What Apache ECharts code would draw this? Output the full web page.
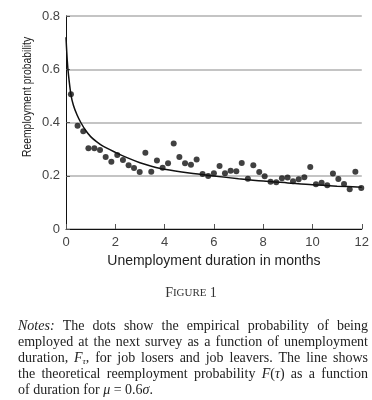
<!DOCTYPE html>
<html>
<head>
<meta charset="utf-8">
<script src="https://cdn.jsdelivr.net/npm/echarts@6/dist/echarts.min.js"></script>
<style>
html,body{margin:0;padding:0;background:#fff;}
#chart{width:372px;height:400px;}
</style>
</head>
<body>
<div id="chart"></div>
<script>
// Empirical dots
const dotX = [0.20,0.47,0.70,0.91,1.15,1.38,1.61,1.84,2.08,2.31,2.54,2.76,2.99,3.22,3.46,3.69,3.92,4.14,4.37,4.60,4.83,5.07,5.30,5.54,5.77,6.00,6.23,6.45,6.68,6.91,7.13,7.38,7.60,7.84,8.06,8.30,8.53,8.76,8.99,9.21,9.44,9.67,9.91,10.14,10.37,10.60,10.83,11.05,11.28,11.51,11.74,11.98];
const dotY = [0.506,0.388,0.367,0.303,0.303,0.297,0.270,0.253,0.278,0.259,0.239,0.229,0.214,0.286,0.215,0.257,0.230,0.247,0.321,0.270,0.247,0.241,0.261,0.207,0.199,0.209,0.237,0.209,0.219,0.217,0.248,0.189,0.239,0.214,0.198,0.177,0.176,0.191,0.193,0.179,0.187,0.194,0.233,0.168,0.174,0.164,0.208,0.188,0.169,0.149,0.215,0.154];
// Theoretical curve F(tau)
const curveX = [0.0,0.05,0.1,0.2,0.3,0.45,0.6,0.8,1.0,1.25,1.5,2.0,2.5,3.0,3.5,4.0,5.0,6.0,7.0,8.0,9.0,10.0,11.0,12.0];
const curveY = [0.72,0.635,0.58,0.505,0.465,0.428,0.40,0.37,0.347,0.327,0.311,0.288,0.267,0.249,0.235,0.224,0.210,0.199,0.189,0.180,0.173,0.166,0.161,0.157];
// Axis ticks
const xTicks = [0,2,4,6,8,10,12];
const yTicks = [0,0.2,0.4,0.6,0.8];

const xName = 'Unemployment duration in months';
const yName = 'Reemployment probability';
// Notes paragraph: each line is a list of words; each word a list of [text, style]
const noteLines = [
  [[['Notes:','i']],[['The','n']],[['dots','n']],[['show','n']],[['the','n']],[['empirical','n']],[['probability','n']],[['of','n']],[['being','n']]],
  'employed at the next survey as a function of unemployment'.split(' ').map(w=>[[w,'n']]),
  [[['duration,','n']],[['F','i'],['τ','s'],[',','n']]].concat('for job losers and job leavers. The line shows'.split(' ').map(w=>[[w,'n']])),
  'the theoretical reemployment probability'.split(' ').map(w=>[[w,'n']]).concat([[['F','i'],['(','n'],['τ','i'],[')','n']]]).concat('as a function'.split(' ').map(w=>[[w,'n']])),
  [[['of','n']],[['duration','n']],[['for','n']],[['μ','i']],[['=','n']],[['0.6','n'],['σ','i'],['.','n']]]
];

const serif = "'Liberation Serif','DejaVu Serif',serif";
const sans = "'Liberation Sans',Arial,sans-serif";
const fonts = {
  n: "14px " + serif,
  i: "italic 14px " + serif,
  s: "italic 9px " + serif
};
const cv = document.createElement('canvas').getContext('2d');
function tw(t, k){ cv.font = fonts[k]; return cv.measureText(t).width; }

const graphics = [];
// y axis name
graphics.push({
  type:'text', x:27, y:97, rotation: Math.PI/2, scaleX:0.8,
  style:{text:yName, font:"13px " + sans, fill:'#222',
    align:'center', verticalAlign:'middle', textAlign:'center', textVerticalAlign:'middle'}
});
// Figure caption
graphics.push({
  type:'text', x:191, y:293,
  style:{text:'{a|F}{b|IGURE} {a|1}', fill:'#333', align:'center', verticalAlign:'middle',
    textAlign:'center', textVerticalAlign:'middle',
    rich:{a:{fontSize:14, fontFamily:serif, fill:'#333'}, b:{fontSize:11, fontFamily:serif, fill:'#333'}}}
});
// Notes
const left = 18, right = 368, top0 = 326, lh = 16;
noteLines.forEach((words, li) => {
  const widths = words.map(w => w.reduce((s,p)=>s+tw(p[0],p[1]),0));
  const total = widths.reduce((a,b)=>a+b,0);
  const last = li === noteLines.length-1;
  const gap = last ? tw(' ','n') : (right-left-total)/(words.length-1);
  let x = left;
  const y = top0 + li*lh;
  words.forEach((w, wi) => {
    let px = x;
    w.forEach(p => {
      graphics.push({type:'text', x:px, y: p[1]==='s' ? y+4 : y,
        style:{text:p[0], font:fonts[p[1]], fill:'#222', align:'left', verticalAlign:'middle',
          textAlign:'left', textVerticalAlign:'middle'}});
      px += tw(p[0],p[1]);
    });
    x += widths[wi] + gap;
  });
});

const chart = echarts.init(document.getElementById('chart'), null, {renderer:'canvas'});
chart.setOption({
  backgroundColor:'#fff',
  animation:false,
  grid:{left:66, right:9, top:16, bottom:171},
  xAxis:{
    type:'value', min:xTicks[0], max:xTicks[xTicks.length-1], interval:2,
    name:xName, nameLocation:'middle', nameGap:24,
    nameTextStyle:{fontSize:14, color:'#222', fontFamily:sans},
    axisLine:{show:true, lineStyle:{color:'#111', width:1}},
    axisTick:{show:true, inside:true, length:5, lineStyle:{color:'#555'}},
    axisLabel:{fontSize:13, color:'#444', margin:7, fontFamily:sans},
    splitLine:{show:false}
  },
  yAxis:{
    type:'value', min:yTicks[0], max:yTicks[yTicks.length-1], interval:0.2,
    axisLine:{show:true, lineStyle:{color:'#111', width:1}},
    axisTick:{show:true, inside:true, length:4, lineStyle:{color:'#555'}},
    axisLabel:{fontSize:13, color:'#444', margin:6, fontFamily:sans,
      formatter: v => String(Math.round(v*10)/10)},
    splitLine:{show:true, lineStyle:{color:'#b0b0b0', width:1.5}}
  },
  series:[
    {type:'line', data: curveX.map((x,i)=>[x,curveY[i]]), smooth:0.3,
      showSymbol:false, symbol:'none', lineStyle:{color:'#111', width:1.5}, z:3},
    {type:'scatter', data: dotX.map((x,i)=>[x,dotY[i]]), symbolSize:6,
      itemStyle:{color:'#111'}, z:4}
  ],
  graphic: graphics
});
</script>
</body>
</html>
